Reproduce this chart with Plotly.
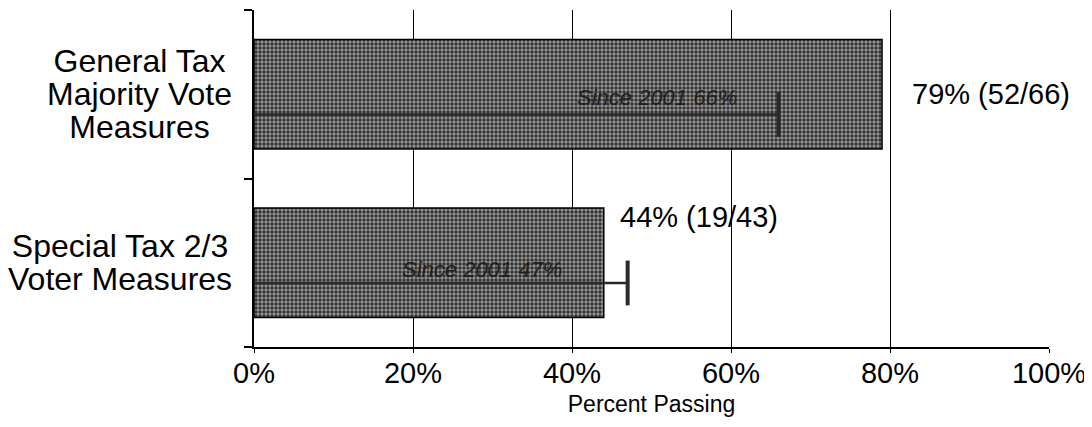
import plotly.graph_objects as go

# data
categories = ["Special Tax 2/3<br>Voter Measures", "General Tax<br>Majority Vote<br>Measures"]
pct_passing = [44, 79]
pass_labels = ["44% (19/43)", "79% (52/66)"]
since_2001 = [47, 66]
since_labels = ["Since 2001 47%", "Since 2001 66%"]
x_ticks = [0, 20, 40, 60, 80, 100]
x_tick_text = ["0%", "20%", "40%", "60%", "80%", "100%"]

FONT = "Arial, Liberation Sans, sans-serif"
INK = "#000000"

ypos = list(range(len(categories)))   # numeric rows so overlays can sit inside bars
LINE_OFF = -0.12                       # "since 2001" line sits a bit below bar centre

fig = go.Figure()

fig.add_trace(go.Bar(
    x=pct_passing, y=ypos, orientation="h", width=0.65,
    marker=dict(
        color="#808080",
        line=dict(color=INK, width=1.5),
        pattern=dict(shape=".", fgcolor="#333333", bgcolor="#9a9a9a",
                     size=4, solidity=0.55, fillmode="replace"),
    ),
    hoverinfo="skip", showlegend=False,
))

# since-2001 reference lines with an end cap
for yi, v in zip(ypos, since_2001):
    fig.add_trace(go.Scatter(
        x=[0, v], y=[yi + LINE_OFF] * 2, mode="lines",
        line=dict(color="#2a2a2a", width=2.5),
        hoverinfo="skip", showlegend=False,
    ))
fig.add_trace(go.Scatter(
    x=since_2001, y=[yi + LINE_OFF for yi in ypos], mode="markers",
    marker=dict(symbol="line-ns", size=32, line=dict(color="#2a2a2a", width=4)),
    hoverinfo="skip", showlegend=False,
))

annotations = []

# "Since 2001" captions inside the bars
since_text_x = [39, 61]
since_text_dy = [-0.04, -0.02]
for yi, tx, dy, txt in zip(ypos, since_text_x, since_text_dy, since_labels):
    annotations.append(dict(
        x=tx, y=yi + dy, xref="x", yref="y", text=f"<i>{txt}</i>",
        showarrow=False, xanchor="right", yanchor="middle",
        font=dict(family=FONT, size=22, color="#1e1e1e"),
    ))

# value labels
label_dx = [14, 28]
label_dy = [0.27, 0.0]
for yi, v, dx, dy, txt in zip(ypos, pct_passing, label_dx, label_dy, pass_labels):
    annotations.append(dict(
        x=v, y=yi + dy, xref="x", yref="y", text=txt, xshift=dx,
        showarrow=False, xanchor="left", yanchor="middle",
        font=dict(family=FONT, size=29, color=INK),
    ))

# category labels: large glyphs but tight line spacing (spacing follows the base size)
for yi, cat in zip(ypos, categories):
    annotations.append(dict(
        x=0, y=yi, xref="paper", yref="y",
        text=f"<span style='font-size:32px'>{cat}</span>", xshift=-20,
        showarrow=False, xanchor="right", yanchor="middle", align="center",
        font=dict(family=FONT, size=25.5, color=INK),
    ))

# the page body adds an 8px offset, so margins are shifted to compensate
fig.update_layout(
    width=1092, height=427,
    margin=dict(l=246, r=51, t=2, b=88),
    paper_bgcolor="white", plot_bgcolor="white",
    font=dict(family=FONT, size=29, color=INK),
    annotations=annotations,
    xaxis=dict(
        range=[0, 100], tickvals=x_ticks, ticktext=x_tick_text,
        showgrid=True, gridcolor=INK, gridwidth=1.2,
        zeroline=False, showline=True, linecolor=INK, linewidth=2,
        ticks="outside", ticklen=4, tickcolor=INK, ticklabelstandoff=-5,
        tickfont=dict(family=FONT, size=29, color=INK),
        title=dict(text="Percent Passing", font=dict(family=FONT, size=23, color=INK),
                   standoff=8),
        fixedrange=True,
    ),
    yaxis=dict(
        range=[-0.5, len(categories) - 0.5],
        tickvals=ypos, ticktext=["" for _ in ypos], ticks="",
        minor=dict(ticks="outside", tick0=-0.5, dtick=1, ticklen=8,
                   tickcolor=INK, tickwidth=1.5, showgrid=False),
        showgrid=False, zeroline=False,
        showline=True, linecolor=INK, linewidth=2,
        fixedrange=True,
    ),
)

fig.write_html("out.html")
